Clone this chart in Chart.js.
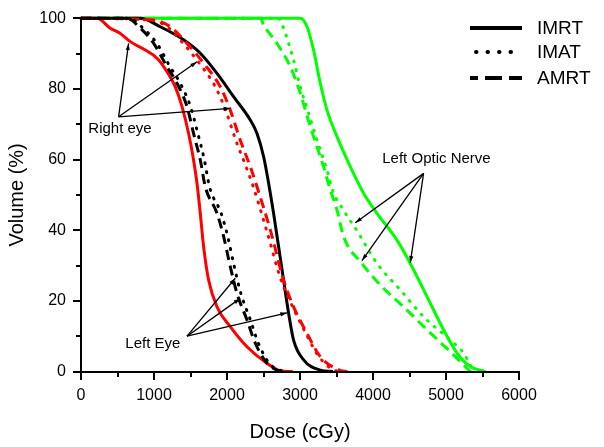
<!DOCTYPE html>
<html>
<head>
    <title>DVH</title>
    <script src="https://cdn.jsdelivr.net/npm/chart.js"></script>
    <style>
        body { margin: 0; background: #fff; }
        #wrap { width: 604px; height: 447px; position: relative; }
    </style>
</head>
<body>
<div id="wrap"><canvas id="dvh"></canvas></div>
<script>
// ---- data (dose in cGy, volume in %) ----
// Right eye (red)
const reImrtDose = [0, 219, 401, 538, 675, 881, 1041, 1178, 1292, 1384, 1474, 1542, 1589, 1634, 1680, 1748, 1863, 2045, 2274, 2548, 2730, 2900];
const reImrtVol  = [100, 100, 97.2, 95.7, 93.4, 91, 88.7, 84.9, 80.6, 75, 67.4, 59.9, 53.3, 44.8, 35.3, 25.9, 18.3, 12.7, 7, 2.3, 0.2, 0];
const reImatDose = [0, 950, 1180, 1400, 1620, 1840, 1980, 2120, 2260, 2360, 2540, 2740, 2900, 3080, 3260, 3480, 3600];
const reImatVol  = [100, 99.5, 97.6, 92.9, 87.3, 80.6, 74, 65.5, 58, 52.3, 40.1, 25.9, 18.3, 10.8, 4.2, 0.3, 0];
const reAmrtDose = [0, 995, 1223, 1452, 1680, 1908, 2045, 2182, 2319, 2411, 2593, 2775, 2912, 3096, 3278, 3552, 3650];
const reAmrtVol  = [100, 99.5, 97.6, 92.9, 87.3, 80.6, 74, 65.5, 58, 52.3, 40.1, 25.9, 18.3, 10.8, 4.2, 0.3, 0];
// Left eye (black)
const leImrtDose = [0, 812, 1086, 1405, 1634, 1863, 2090, 2319, 2411, 2502, 2570, 2638, 2707, 2775, 2844, 2912, 3049, 3278, 3450];
const leImrtVol  = [100, 100, 97.6, 93.9, 90.1, 84.4, 77.8, 71.2, 67.4, 60.8, 53.3, 44.8, 35.3, 25.9, 16.5, 8.9, 3.3, 0.4, 0];
const leImatDose = [0, 660, 850, 1040, 1220, 1360, 1500, 1600, 1690, 1760, 1920, 2010, 2100, 2190, 2320, 2430, 2580, 2720, 2850];
const leImatVol  = [100, 100, 97.2, 92.9, 86.3, 81.6, 75, 67.4, 59.9, 52.3, 44.8, 38.2, 29.7, 22.1, 14.6, 8, 2.3, 0.4, 0];
const leAmrtDose = [0, 630, 812, 995, 1178, 1315, 1452, 1542, 1634, 1703, 1863, 1954, 2045, 2137, 2274, 2388, 2548, 2685, 2750];
const leAmrtVol  = [100, 100, 97.2, 92.9, 86.3, 81.6, 75, 67.4, 59.9, 52.3, 44.8, 38.2, 29.7, 22.1, 14.6, 8, 2.3, 0.4, 0];
// Left optic nerve (green)
const lonImrtDose = [0, 3004, 3096, 3186, 3278, 3370, 3507, 3689, 3871, 4055, 4329, 4511, 4740, 4967, 5151, 5333, 5538];
const lonImrtVol  = [100, 100, 97.6, 91, 81.6, 74, 66.5, 58, 50.5, 44.8, 37.2, 30.6, 21.2, 11.8, 5.2, 1.4, 0];
const lonImatDose = [0, 2700, 2775, 2844, 2912, 3004, 3118, 3233, 3370, 3460, 3552, 3803, 4055, 4374, 4693, 5059, 5241, 5378];
const lonImatVol  = [100, 100, 97.2, 92.9, 88.2, 80.6, 73.1, 65.5, 57, 50.5, 47.1, 39.1, 30.6, 23.1, 15.5, 8.9, 5.2, 0];
const lonAmrtDose = [0, 2457, 2502, 2685, 2867, 3004, 3141, 3233, 3323, 3415, 3507, 3597, 3849, 4123, 4466, 4740, 5059, 5333];
const lonAmrtVol  = [100, 100, 98.1, 92.9, 86.3, 78.8, 69.3, 63.6, 58, 51.4, 45.7, 38.2, 30.6, 24, 17.4, 11.8, 5.6, 0];

const techniques = ['IMRT', 'IMAT', 'AMRT'];

// annotation labels: [text, textDose, textVol, fromDose, fromVol, targets]
const notes = [
    ['Right eye', 100, 68.7, 515, 72.1, [[652, 92.9], [1589, 87.7], [2045, 74.5]]],
    ['Left Eye', 607, 7.8, 1452, 10, [[2114, 26.4], [2182, 20.7], [2822, 16.6]]],
    ['Left Optic Nerve', 4127, 60.2, 4693, 56.1, [[3758, 42.1], [3849, 31.4], [4511, 30.8]]]
];

const FONT = '"Liberation Sans", Arial, sans-serif';
const dashes = { IMRT: [], IMAT: [1, 8], AMRT: [10, 6] };

function pts(xs, ys) {
    return xs.map((x, i) => ({ x: x, y: ys[i] }));
}

function series(xs, ys, color, tech) {
    return {
        label: tech,
        data: pts(xs, ys),
        borderColor: color,
        borderWidth: 3,
        borderDash: dashes[tech],
        borderCapStyle: tech === 'IMAT' ? 'round' : 'butt',
        pointRadius: 0,
        cubicInterpolationMode: 'monotone',
        fill: false,
        clip: 6
    };
}

// axis lines and tick marks as filled rectangles, placed through the scales
function drawAxes(chart) {
    const ctx = chart.ctx;
    const xs = chart.scales.x, ys = chart.scales.y;
    const x0 = Math.round(xs.getPixelForValue(0)), x1 = Math.round(xs.getPixelForValue(6000));
    const y0 = Math.round(ys.getPixelForValue(0)), y1 = Math.round(ys.getPixelForValue(100));
    ctx.save();
    ctx.globalAlpha = 1;
    ctx.globalCompositeOperation = 'source-over';
    ctx.fillStyle = 'rgb(0,0,0)';
    ctx.fillRect(x0 - 1, y1 - 1, 2, y0 - y1 + 2);
    ctx.fillRect(x0 - 1, y0 - 1, x1 - x0 + 2, 2);
    for (let v = 0; v <= 6000; v += 500) {
        const px = Math.round(xs.getPixelForValue(v));
        ctx.fillRect(px - 1, y0, 2, v % 1000 === 0 ? 8 : 5);
    }
    for (let v = 0; v <= 100; v += 10) {
        const py = Math.round(ys.getPixelForValue(v));
        const len = v % 20 === 0 ? 8 : 5;
        ctx.fillRect(x0 - len, py - 1, len, 2);
    }
    ctx.restore();
}

// annotations with small arrowheads
function drawNotes(chart) {
    const ctx = chart.ctx;
    const xs = chart.scales.x, ys = chart.scales.y;
    ctx.save();
    ctx.strokeStyle = '#000';
    ctx.fillStyle = '#000';
    ctx.lineWidth = 1.3;
    ctx.setLineDash([]);
    ctx.font = '15px ' + FONT;
    ctx.textBaseline = 'middle';
    notes.forEach(n => {
        ctx.fillText(n[0], xs.getPixelForValue(n[1]), ys.getPixelForValue(n[2]));
        const fx = xs.getPixelForValue(n[3]), fy = ys.getPixelForValue(n[4]);
        n[5].forEach(t => {
            const tx = xs.getPixelForValue(t[0]), ty = ys.getPixelForValue(t[1]);
            const ang = Math.atan2(ty - fy, tx - fx);
            ctx.beginPath();
            ctx.moveTo(fx, fy);
            ctx.lineTo(tx, ty);
            ctx.stroke();
            ctx.beginPath();
            ctx.moveTo(tx, ty);
            ctx.lineTo(tx - 7 * Math.cos(ang - 0.3), ty - 7 * Math.sin(ang - 0.3));
            ctx.lineTo(tx - 7 * Math.cos(ang + 0.3), ty - 7 * Math.sin(ang + 0.3));
            ctx.closePath();
            ctx.fill();
        });
    });
    ctx.restore();
}

// legend in top right corner
function drawLegend(chart) {
    const ctx = chart.ctx;
    const rows = [28, 52, 78];
    ctx.save();
    ctx.strokeStyle = '#000';
    ctx.fillStyle = '#000';
    ctx.font = '19px ' + FONT;
    ctx.textBaseline = 'middle';
    techniques.forEach((t, i) => {
        ctx.beginPath();
        ctx.lineWidth = 4;
        if (t === 'IMAT') {
            ctx.lineCap = 'round';
            ctx.setLineDash([0.5, 11]);
            ctx.moveTo(476, rows[i]);
        } else if (t === 'AMRT') {
            ctx.lineCap = 'butt';
            ctx.setLineDash([17, 7]);
            ctx.lineDashOffset = 9;
            ctx.moveTo(470, rows[i]);
        } else {
            ctx.lineCap = 'butt';
            ctx.setLineDash([]);
            ctx.moveTo(470, rows[i]);
        }
        ctx.lineTo(522, rows[i]);
        ctx.stroke();
        ctx.setLineDash([]);
        ctx.lineDashOffset = 0;
        ctx.fillText(t, 537, rows[i] + 1);
    });
    ctx.restore();
}

const extrasPlugin = {
    id: 'extras',
    afterDraw(chart) {
        drawNotes(chart);
        drawLegend(chart);
        drawAxes(chart);
    }
};

new Chart(document.getElementById('dvh'), {
    type: 'line',
    data: {
        datasets: [
            series(leImatDose, leImatVol, '#000000', 'IMAT'),
            series(leAmrtDose, leAmrtVol, '#000000', 'AMRT'),
            series(reImatDose, reImatVol, '#ff0000', 'IMAT'),
            series(reAmrtDose, reAmrtVol, '#ff0000', 'AMRT'),
            series(leImrtDose, leImrtVol, '#000000', 'IMRT'),
            series(reImrtDose, reImrtVol, '#ff0000', 'IMRT'),
            series(lonImatDose, lonImatVol, '#00ff00', 'IMAT'),
            series(lonAmrtDose, lonAmrtVol, '#00ff00', 'AMRT'),
            series(lonImrtDose, lonImrtVol, '#00ff00', 'IMRT')
        ]
    },
    options: {
        responsive: true,
        maintainAspectRatio: false,
        animation: false,
        layout: { padding: { top: 18.3, right: 85, left: 0, bottom: 0 } },
        plugins: { legend: { display: false }, tooltip: { enabled: false } },
        scales: {
            x: {
                type: 'linear',
                min: 0,
                max: 6000,
                afterFit: s => { s.height = 75.5; s.paddingLeft = 0; s.paddingRight = 0; },
                grid: { display: false, drawTicks: false },
                border: { display: false },
                ticks: {
                    stepSize: 500,
                    padding: 14,
                    color: '#000',
                    font: { family: FONT, size: 16 },
                    maxRotation: 0,
                    autoSkip: false,
                    callback: v => (v % 1000 === 0 ? v : '')
                },
                title: {
                    display: true,
                    text: 'Dose (cGy)',
                    color: '#000',
                    font: { family: FONT, size: 20 },
                    padding: { bottom: 3 }
                }
            },
            y: {
                min: 0,
                max: 100,
                afterFit: s => { s.width = 81; s.paddingTop = 0; s.paddingBottom = 0; },
                grid: { display: false, drawTicks: false },
                border: { display: false },
                ticks: {
                    stepSize: 10,
                    padding: 15,
                    color: '#000',
                    font: { family: FONT, size: 16 },
                    autoSkip: false,
                    callback: v => (v % 20 === 0 ? v : '')
                },
                title: {
                    display: true,
                    text: 'Volume (%)',
                    color: '#000',
                    font: { family: FONT, size: 20 },
                    padding: { top: 5 }
                }
            }
        }
    },
    plugins: [extrasPlugin]
});
</script>
</body>
</html>
